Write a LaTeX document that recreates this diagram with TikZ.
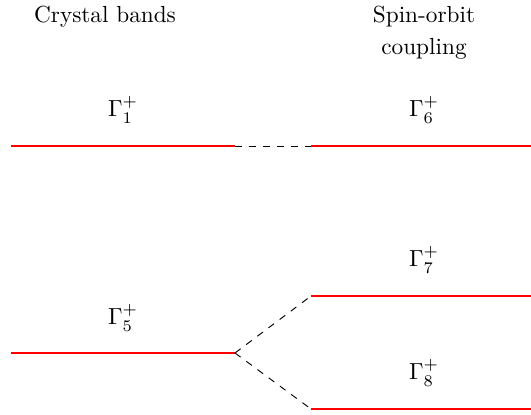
\documentclass[tikz,border=0pt]{standalone}
\usepackage{xcolor}
\usepackage{tikz}
\usetikzlibrary{positioning}

\begin{document}
\begin{tikzpicture}[x=0.43pt,y=-0.43pt,
  level/.style={red,line width=0.8pt},
  link/.style={dashed,line width=0.4pt},
  lab/.style={inner sep=0pt,font=\normalsize},
  head/.style={align=center,font=\normalsize}]
\useasboundingbox (0,0) rectangle (531,414);
% headings
\node[head] (hc) at (105,17) {Crystal bands};
\node[head] (hs) at (424,33) {Spin-orbit\\[1.8pt]coupling};
% crystal levels
\coordinate (a1) at (11,146);  \coordinate (b1) at (235,146);
\coordinate (a5) at (11,353);  \coordinate (b5) at (235,353);
% spin-orbit levels
\coordinate (a6) at (311,146); \coordinate (b6) at (531,146);
\coordinate (a7) at (311,296); \coordinate (b7) at (531,296);
\coordinate (a8) at (311,409); \coordinate (b8) at (531,409);
\draw[level] (a1) -- (b1);
\draw[level] (a5) -- (b5);
\draw[level] (a6) -- (b6);
\draw[level] (a7) -- (b7);
\draw[level] (a8) -- (b8);
\node[lab] (g1) at (123,110) {$\Gamma_1^+$};
\node[lab] (g5) at (123,318) {$\Gamma_5^+$};
\node[lab] (g6) at (424,110) {$\Gamma_6^+$};
\node[lab] (g7) at (424,260) {$\Gamma_7^+$};
\node[lab] (g8) at (424,373) {$\Gamma_8^+$};
\draw[link] (b1) -- (a6);
\draw[link] (b5) -- (a7);
\draw[link] (b5) -- (a8);
\end{tikzpicture}
\end{document}
